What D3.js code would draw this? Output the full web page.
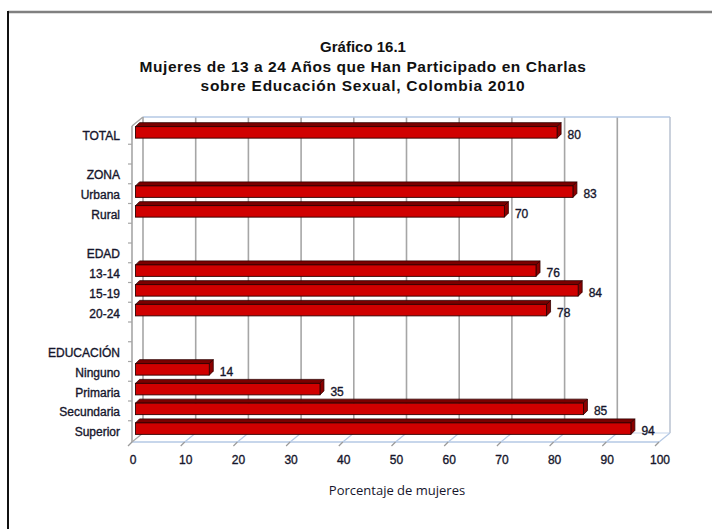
<!DOCTYPE html>
<html><head><meta charset="utf-8">
<script src="https://cdn.jsdelivr.net/npm/d3@7"></script>
<style>
html,body{margin:0;padding:0;background:#fff;}
svg{display:block;}
</style></head>
<body>
<svg id="chart" width="712" height="529"></svg>
<script>
// ---- data ----
const categories = ["TOTAL","","ZONA","Urbana","Rural","","EDAD","13-14","15-19","20-24","","EDUCACIÓN","Ninguno","Primaria","Secundaria","Superior"];
const values = [80,null,null,83,70,null,null,76,84,78,null,null,14,35,85,94];
const xTicks = [0,10,20,30,40,50,60,70,80,90,100];
const titleLines = ["Gráfico 16.1","Mujeres de 13 a 24 Años que Han Participado en Charlas","sobre Educación Sexual, Colombia 2010"];
const xTitle = "Porcentaje de mujeres";

// ---- layout ----
const svg = d3.select("#chart");
const W = 712, H = 529;
const textCol = "#16162c";
const depthX = 11, depthY = -9;
const x = d3.scaleLinear().domain([0,100]).range([132,659]);
const y = d3.scaleBand().domain(d3.range(categories.length)).range([126,442]).paddingInner(0).paddingOuter(0);
const floorY = 442, wallTop = 117;

// frame
svg.append("line").attr("x1",8).attr("y1",12).attr("x2",W).attr("y2",12).attr("stroke","#808080").attr("stroke-width",2.5);
svg.append("line").attr("x1",8).attr("y1",11).attr("x2",8).attr("y2",H).attr("stroke","#111").attr("stroke-width",2);

// title
const tFont = "Liberation Sans, Arial, sans-serif";
const tSizes = [15,15.5,15.5], tSpacing = [0,0.55,0.75];
svg.append("g").selectAll("text").data(titleLines).join("text")
  .attr("x",363).attr("y",(d,i)=>52+i*19.5)
  .attr("text-anchor","middle").attr("font-family",tFont).attr("font-weight","bold")
  .attr("font-size",(d,i)=>tSizes[i]).attr("letter-spacing",(d,i)=>tSpacing[i])
  .attr("fill","#111").text(d=>d);

// back wall
const g = svg.append("g");
g.selectAll("line.grid").data(xTicks.slice(1,-1)).join("line").attr("class","grid")
  .attr("x1",d=>x(d)+depthX).attr("x2",d=>x(d)+depthX)
  .attr("y1",wallTop).attr("y2",floorY+depthY)
  .attr("stroke","#a6a6a6").attr("stroke-width",1.6);
g.append("line").attr("x1",x(0)+depthX).attr("x2",x(100)+depthX).attr("y1",wallTop).attr("y2",wallTop).attr("stroke","#b4c8e4").attr("stroke-width",1.5);
g.append("line").attr("x1",x(100)+depthX).attr("x2",x(100)+depthX).attr("y1",wallTop).attr("y2",floorY+depthY).attr("stroke","#b8c2d0").attr("stroke-width",1.5);
// left wall
g.append("line").attr("x1",x(0)+depthX).attr("x2",x(0)+depthX).attr("y1",wallTop).attr("y2",floorY+depthY).attr("stroke","#a6a6a6").attr("stroke-width",1.6);
g.append("line").attr("x1",x(0)).attr("x2",x(0)).attr("y1",wallTop-depthY).attr("y2",floorY).attr("stroke","#a6a6a6").attr("stroke-width",1.6);
g.append("line").attr("x1",x(0)).attr("x2",x(0)+depthX).attr("y1",wallTop-depthY).attr("y2",wallTop).attr("stroke","#a6a6a6").attr("stroke-width",1.4);
g.selectAll("line.ltick").data(d3.range(1,categories.length)).join("line").attr("class","ltick")
  .attr("x1",x(0)-4).attr("x2",x(0)).attr("y1",d=>y(d)-1.5).attr("y2",d=>y(d)-1.5)
  .attr("stroke","#a6a6a6").attr("stroke-width",1.2);
// floor
g.append("line").attr("x1",x(0)+depthX).attr("x2",x(100)+depthX).attr("y1",floorY+depthY).attr("y2",floorY+depthY).attr("stroke","#c4d4ea").attr("stroke-width",1.2);
g.append("line").attr("x1",x(0)).attr("x2",x(100)).attr("y1",floorY).attr("y2",floorY).attr("stroke","#b4c8e4").attr("stroke-width",1.5);
g.selectAll("line.fl").data(xTicks).join("line").attr("class","fl")
  .attr("x1",d=>x(d)).attr("x2",d=>x(d)+depthX).attr("y1",floorY).attr("y2",floorY+depthY)
  .attr("stroke",d=>d===0?"#a6a6a6":"#b4c8e4").attr("stroke-width",1.2);
g.selectAll("line.ft").data(xTicks).join("line").attr("class","ft")
  .attr("x1",d=>x(d)).attr("x2",d=>x(d)-4).attr("y1",floorY).attr("y2",floorY+4)
  .attr("stroke","#9a9a9a").attr("stroke-width",1.2);

// bars
const bh = 11.5, ox = 3.5, oy = -3.5, bd = 4;
const rows = values.map((v,i)=>({v,i,cat:categories[i]})).filter(d=>d.v!=null);
const bars = svg.append("g").selectAll("g").data(rows).join("g");
bars.each(function(d){
  const gg = d3.select(this);
  const x0 = x(0)+ox, x1 = x(d.v)+ox;
  const yc = y(d.i)+y.bandwidth()/2+oy;
  const yt = yc-bh/2, yb = yc+bh/2;
  gg.append("path").attr("d",`M${x0},${yt}L${x0+bd},${yt-bd}L${x1+bd},${yt-bd}L${x1},${yt}Z`)
    .attr("fill","#7a0000").attr("stroke","#300000").attr("stroke-width",0.8);
  gg.append("path").attr("d",`M${x1},${yt}L${x1+bd},${yt-bd}L${x1+bd},${yb-bd}L${x1},${yb}Z`)
    .attr("fill","#8c0000").attr("stroke","#300000").attr("stroke-width",0.8);
  gg.append("rect").attr("x",x0).attr("y",yt).attr("width",x1-x0).attr("height",bh)
    .attr("fill","#d00000").attr("stroke","#300000").attr("stroke-width",0.9);
  gg.append("text").attr("x",x(d.v)+14).attr("y",y(d.i)+y.bandwidth()/2-1)
    .attr("dominant-baseline","central").attr("font-family",tFont).attr("font-size",12)
    .attr("fill",textCol).attr("stroke",textCol).attr("stroke-width",0.35).text(d.v);
});

// category labels
svg.append("g").selectAll("text").data(categories).join("text")
  .attr("x",120).attr("y",(d,i)=>y(i)+y.bandwidth()/2)
  .attr("text-anchor","end").attr("dominant-baseline","central")
  .attr("font-family",tFont).attr("font-size",12).attr("fill",textCol)
  .attr("stroke",textCol).attr("stroke-width",0.35).text(d=>d);

// x tick labels
svg.append("g").selectAll("text").data(xTicks).join("text")
  .attr("x",d=>x(d)+1).attr("y",460).attr("text-anchor","middle").attr("dominant-baseline","central")
  .attr("font-family",tFont).attr("font-size",12).attr("fill",textCol)
  .attr("stroke",textCol).attr("stroke-width",0.35).text(d=>d);

// x title
svg.append("text").attr("x",397).attr("y",490).attr("text-anchor","middle").attr("dominant-baseline","central")
  .attr("font-family","Open Sans, sans-serif").attr("font-size",13).attr("fill",textCol).text(xTitle);
</script>
</body></html>
